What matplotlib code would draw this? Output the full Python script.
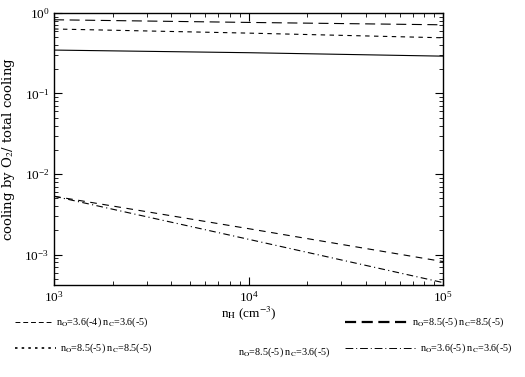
import numpy as np
import matplotlib
matplotlib.use('Agg')
import matplotlib.pyplot as plt
from matplotlib.lines import Line2D

plt.rcParams['font.family'] = ['Liberation Serif', 'DejaVu Serif']
plt.rcParams['mathtext.fontset'] = 'stix'

# density grid (cm^-3) and the five model curves
n_H = [1e3, 1e4, 1e5]
thick_dash = [0.82, 0.76, 0.71]     # n_O=8.5(-5) n_C=8.5(-5)
dotted = [0.63, 0.56, 0.49]         # n_O=8.5(-5) n_C=8.5(-5)
solid = [0.345, 0.32, 0.29]         # n_O=8.5(-5) n_C=3.6(-5)
thin_dash = [5.3e-3, 2.1e-3, 8.2e-4]  # n_O=3.6(-4) n_C=3.6(-5)
dash_dot = [5.3e-3, 1.55e-3, 4.5e-4]  # n_O=3.6(-5) n_C=3.6(-5)

labels = [r'n$_{\rm O}$=3.6(-4) n$_{\rm C}$=3.6(-5)',
          r'n$_{\rm O}$=8.5(-5) n$_{\rm C}$=8.5(-5)',
          r'n$_{\rm O}$=8.5(-5) n$_{\rm C}$=3.6(-5)',
          r'n$_{\rm O}$=8.5(-5) n$_{\rm C}$=8.5(-5)',
          r'n$_{\rm O}$=3.6(-5) n$_{\rm C}$=3.6(-5)']

fig = plt.figure(figsize=(5.25, 3.77), dpi=100)
ax = fig.add_axes([0.103, 0.244, 0.741, 0.722])

lw = 0.8
ax.plot(n_H, thick_dash, color='k', lw=lw, ls=(0, (9, 5)))
ax.plot(n_H, dotted, color='k', lw=lw, ls=(0, (4, 4)))
ax.plot(n_H, solid, color='k', lw=lw, ls='-')
ax.plot(n_H, thin_dash, color='k', lw=lw, ls=(0, (6, 5)))
ax.plot(n_H, dash_dot, color='k', lw=lw, ls=(0, (6, 3, 1, 3)))

ax.set_xscale('log')
ax.set_yscale('log')
ax.set_xlim(1e3, 1e5)
ax.set_ylim(4.2e-4, 1.0)
ax.tick_params(which='both', direction='in', top=True, right=True, labelsize=9.5)
ax.tick_params(which='major', length=6)
ax.tick_params(which='minor', length=3)
for s in ax.spines.values():
    s.set_linewidth(1.0)

ax.set_xlabel(r'n$_{\rm H}$ (cm$^{-3}$)', fontsize=9.5, labelpad=0)
ax.set_ylabel(r'cooling by O$_2$/ total cooling', fontsize=9.5, labelpad=5,
              family=['DejaVu Serif'])

# legend drawn beneath the axes
fs = 7.3
def entry(x0, x1, y, ls, lw_, text):
    fig.add_artist(Line2D([x0 / 525, x1 / 525], [1 - y / 377] * 2, color='k', lw=lw_, ls=ls))
    fig.text((x1 + 4) / 525, 1 - y / 377, text, fontsize=fs, va='center', ha='left')

entry(15, 52, 322, (0, (5, 3)), 0.7, labels[0])
entry(15, 56, 348, (0, (1.5, 2.5)), 1.2, labels[1])
fig.text(284 / 525, 1 - 352 / 377, labels[2], fontsize=fs, va='center', ha='center')
entry(345, 408, 322, (0, (5, 2.5)), 1.6, labels[3])
entry(345, 416, 348, (0, (8, 3, 1, 3)), 0.7, labels[4])

fig.savefig('out.png', dpi=100, facecolor='w')
